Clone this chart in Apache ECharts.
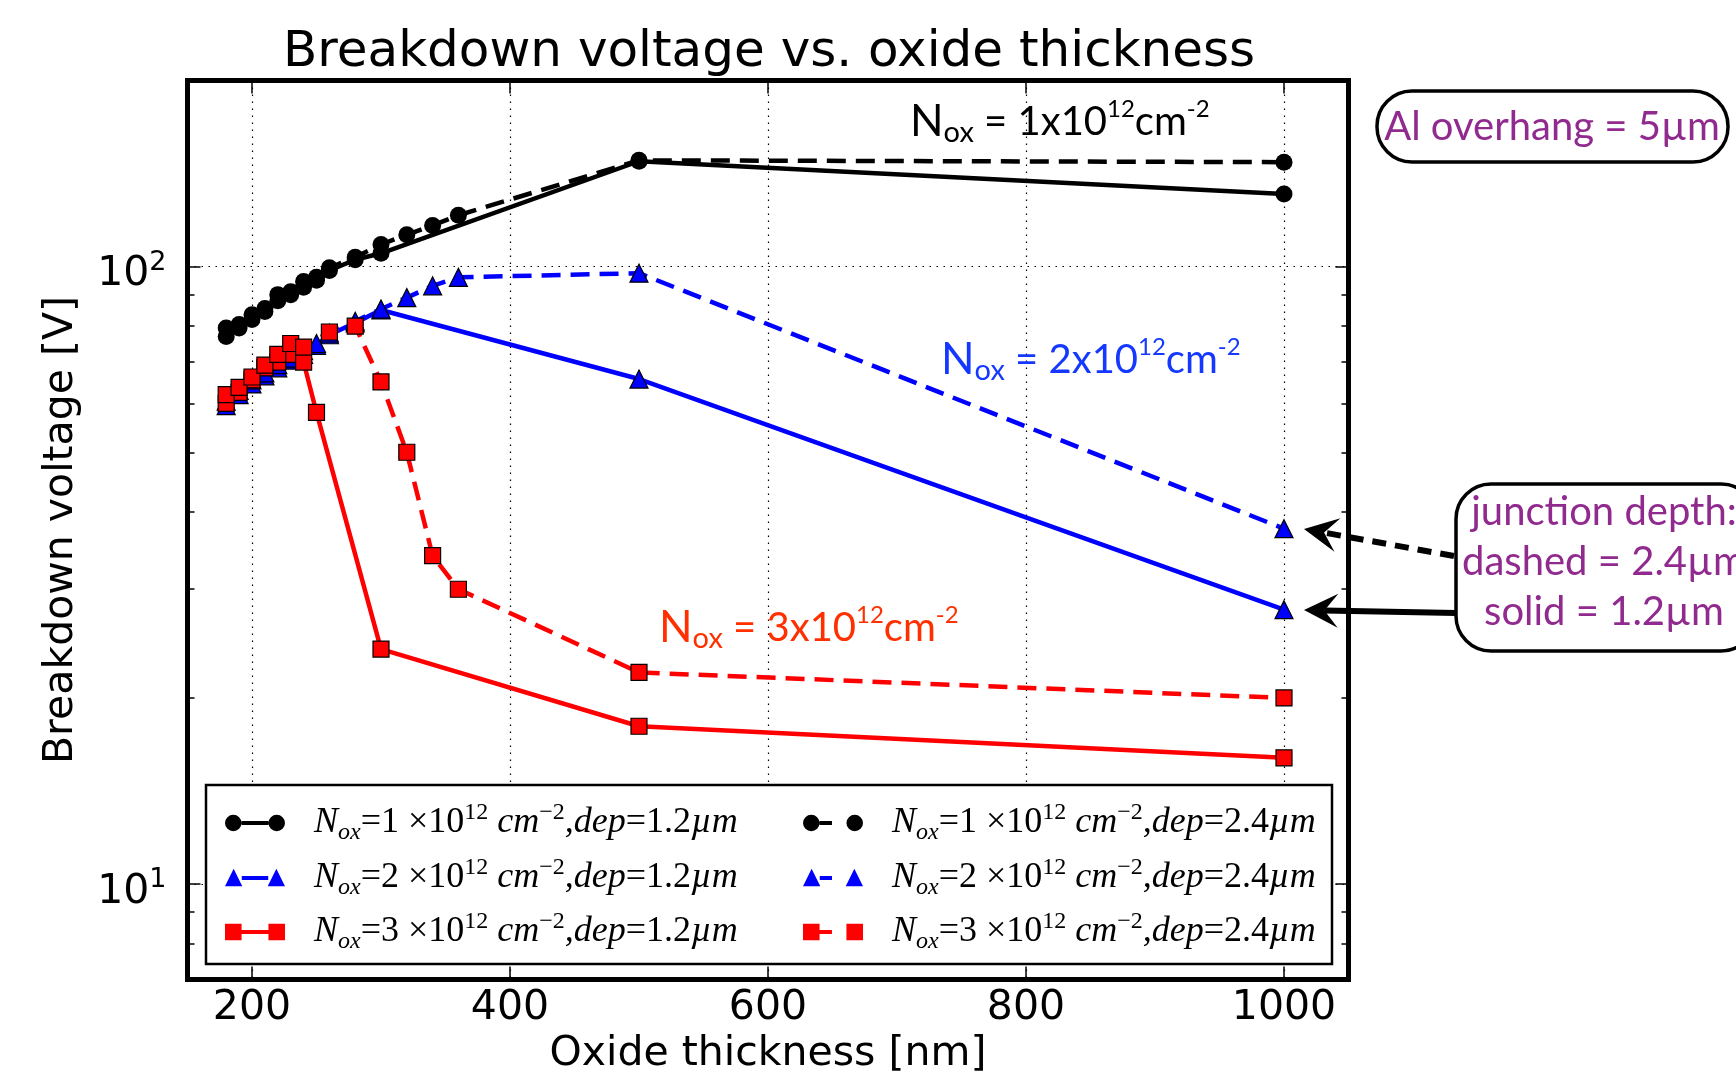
<!DOCTYPE html>
<html><head><meta charset="utf-8">
<script src="https://cdn.jsdelivr.net/npm/echarts@6/dist/echarts.min.js"></script>
<style>html,body{margin:0;padding:0;background:#fff}#c{width:1736px;height:1079px}</style>
</head><body><div id="c"></div>
<script>
// ---------------- data ----------------
const xTicks = [200, 400, 600, 800, 1000];
const yMajorTicks = [10, 100];
const yMinorTicks = [8, 9, 20, 30, 40, 50, 60, 70, 80, 90];

const thicknessBlackSolid = [180, 190, 200, 210, 220, 230, 240, 250, 260, 280, 300, 500, 1000];
const voltageBlackSolid   = [77, 79.5, 82, 84.5, 88, 90, 92.5, 95, 98.5, 102.5, 105, 148, 131];
const thicknessBlackDashed = [180, 190, 200, 210, 220, 230, 240, 250, 260, 280, 300, 320, 340, 360, 500, 1000];
const voltageBlackDashed   = [79.5, 80.5, 83.5, 85.5, 90, 91, 94.5, 96, 99.5, 103.5, 108.5, 112.5, 116.5, 121, 148.5, 147.5];

const thicknessBlueSolid = [180, 190, 200, 210, 220, 230, 240, 250, 260, 280, 300, 500, 1000];
const voltageBlueSolid   = [59.5, 62, 64.5, 66.5, 68.5, 70.5, 72, 74.5, 77.5, 81, 85, 65.7, 27.8];
const thicknessBlueDashed = [180, 190, 200, 210, 220, 230, 240, 250, 260, 280, 300, 320, 340, 360, 500, 1000];
const voltageBlueDashed   = [60.5, 63, 65.5, 67.2, 69.3, 71, 73, 75, 78, 81.5, 85.3, 89, 93, 96, 97.5, 37.6];

const thicknessRedSolid = [180, 190, 200, 210, 220, 230, 240, 250, 300, 500, 1000];
const voltageRedSolid   = [60, 62.5, 65.5, 68.5, 70, 72, 70, 58, 24, 18, 16];
const thicknessRedDashed = [180, 190, 200, 210, 220, 230, 240, 260, 280, 300, 320, 340, 360, 500, 1000];
const voltageRedDashed   = [62, 63.7, 66.2, 69.2, 72, 75, 74, 78.3, 80, 65, 50, 34, 30, 22, 20];

const noxValues = ['1', '2', '3'];
const depthValues = ['1.2', '2.4'];
// ---------------------------------------

function pairs(xs, ys) { return xs.map((x, i) => [x, ys[i]]); }
function seriesName(nox, dep) { return 'N_ox=' + nox + '×10^12 cm^-2, dep=' + dep + 'µm'; }
const richLegend = {};
noxValues.forEach(n => depthValues.forEach(d => {
  richLegend[seriesName(n, d)] = '{sp| }{it|N}{sub|ox}{rm|=' + n + ' ×10}{sup|12}{it| cm}{sup|−2}{it|,dep}{rm|=' + d + '}{it|µm}';
}));

const iconCircleSolid = 'path://M1,10a8,8 0 1,0 16,0a8,8 0 1,0 -16,0zM17,8h26v4h-26zM43,10a8,8 0 1,0 16,0a8,8 0 1,0 -16,0z';
const iconCircleDashed = 'path://M1,10a8,8 0 1,0 16,0a8,8 0 1,0 -16,0zM17,8h12v4h-12zM43,10a8,8 0 1,0 16,0a8,8 0 1,0 -16,0z';
const iconTriSolid = 'path://M9,1L17.5,18H0.5zM17,8h26v4h-26zM51,1L59.5,18H42.5z';
const iconTriDashed = 'path://M9,1L17.5,18H0.5zM17,8h12v4h-12zM51,1L59.5,18H42.5z';
const iconSqSolid = 'path://M1,2h16v16h-16zM17,8h26v4h-26zM43,2h16v16h-16z';
const iconSqDashed = 'path://M1,2h16v16h-16zM17,8h12v4h-12zM43,2h16v16h-16z';

const defs = [
  {n: '1', d: '1.2', xs: thicknessBlackSolid, ys: voltageBlackSolid, color: '#000000', symbol: 'circle', size: 17, dashed: false, icon: iconCircleSolid},
  {n: '1', d: '2.4', xs: thicknessBlackDashed, ys: voltageBlackDashed, color: '#000000', symbol: 'circle', size: 17, dashed: true, icon: iconCircleDashed},
  {n: '2', d: '1.2', xs: thicknessBlueSolid, ys: voltageBlueSolid, color: '#0000ff', symbol: 'triangle', size: 18, dashed: false, icon: iconTriSolid},
  {n: '2', d: '2.4', xs: thicknessBlueDashed, ys: voltageBlueDashed, color: '#0000ff', symbol: 'triangle', size: 18, dashed: true, icon: iconTriDashed},
  {n: '3', d: '1.2', xs: thicknessRedSolid, ys: voltageRedSolid, color: '#ff0000', symbol: 'rect', size: 16, dashed: false, icon: iconSqSolid},
  {n: '3', d: '2.4', xs: thicknessRedDashed, ys: voltageRedDashed, color: '#ff0000', symbol: 'rect', size: 16, dashed: true, icon: iconSqDashed}
];

const series = defs.map(s => ({
  type: 'line',
  name: seriesName(s.n, s.d),
  data: pairs(s.xs, s.ys),
  xAxisIndex: 0, yAxisIndex: 0,
  symbol: s.symbol, symbolSize: s.size, showAllSymbol: true,
  lineStyle: {color: s.color, width: 4.5, type: s.dashed ? [19, 10] : 'solid'},
  itemStyle: {color: s.color, borderColor: '#000', borderWidth: s.color === '#000000' ? 0 : 1.2},
  emphasis: {disabled: true},
  animation: false
}));

const legendRich = {
  sp: {width: 24, fontSize: 10},
  it: {fontFamily: 'Liberation Serif', fontStyle: 'italic', fontSize: 36, lineHeight: 44, color: '#000'},
  rm: {fontFamily: 'Liberation Serif', fontSize: 36, lineHeight: 44, color: '#000'},
  sub: {fontFamily: 'Liberation Serif', fontStyle: 'italic', fontSize: 24, lineHeight: 22, verticalAlign: 'bottom', color: '#000'},
  sup: {fontFamily: 'Liberation Serif', fontSize: 24, lineHeight: 22, verticalAlign: 'top', color: '#000'}
};
function legendFor(dep, left) {
  return {
    orient: 'vertical', left: left, top: 796, itemGap: 10.5,
    itemWidth: 60, itemHeight: 20,
    selectedMode: false,
    itemStyle: {borderWidth: 0},
    data: defs.filter(s => s.d === dep).map(s => ({name: seriesName(s.n, s.d), icon: s.icon})),
    formatter: name => richLegend[name],
    textStyle: {rich: legendRich}
  };
}

const axisFont = 'DejaVu Sans';
const tickLine = {color: '#000', width: 1.5};

function arrow(x1, y1, x2, y2, dashed) {
  const dx = x2 - x1, dy = y2 - y1, L = Math.hypot(dx, dy);
  const ux = dx / L, uy = dy / L, nx = -uy, ny = ux;
  const hl = 34, hw = 17;
  const notch = [x2 - 0.6 * hl * ux, y2 - 0.6 * hl * uy];
  return [
    {type: 'line', z: 10, shape: {x1: x1, y1: y1, x2: notch[0], y2: notch[1]},
     style: {stroke: '#000', lineWidth: 6, lineDash: dashed ? [14, 9] : null}},
    {type: 'polygon', z: 10, shape: {points: [[x2, y2],
        [x2 - hl * ux + hw * nx, y2 - hl * uy + hw * ny], notch,
        [x2 - hl * ux - hw * nx, y2 - hl * uy - hw * ny]]},
     style: {fill: '#000'}}
  ];
}

function noxText(x, y, n, color) {
  return {
    type: 'text', x: x, y: y, z: 10,
    style: {
      text: '{N|N}{o|ox}{t| = ' + n + 'x10}{s|12}{t|cm}{s|-2}',
      align: 'left', verticalAlign: 'middle',
      rich: {
        N: {fontFamily: 'Lato', fontSize: 44, lineHeight: 50, fill: color, color: color},
        o: {fontFamily: 'Lato', fontSize: 29, lineHeight: 28, verticalAlign: 'bottom', fill: color, color: color},
        t: {fontFamily: 'Lato', fontSize: 40, lineHeight: 50, fill: color, color: color},
        s: {fontFamily: 'Lato', fontSize: 24, lineHeight: 28, verticalAlign: 'top', fill: color, color: color}
      }
    }
  };
}

const purple = '#912a8e';
const graphics = [
  {type: 'rect', z: 3, shape: {x: 206, y: 785, width: 1126, height: 179},
   style: {fill: '#fff', stroke: '#000', lineWidth: 2.5}},
  noxText(910, 122, '1', '#000000'),
  noxText(941, 360, '2', '#1438ff'),
  noxText(659, 628, '3', '#ff3000'),
  {type: 'rect', z: 10, shape: {x: 1377, y: 91, width: 351, height: 71, r: 35},
   style: {fill: '#fff', stroke: '#000', lineWidth: 3.5}},
  {type: 'text', z: 11, x: 1552, y: 127,
   style: {text: 'Al overhang = 5µm', font: '40px Lato', fill: purple, align: 'center', verticalAlign: 'middle'}},
  {type: 'rect', z: 10, shape: {x: 1456, y: 484, width: 300, height: 167, r: 35},
   style: {fill: '#fff', stroke: '#000', lineWidth: 3.5}},
  {type: 'text', z: 11, x: 1604, y: 562,
   style: {text: 'junction depth:\ndashed = 2.4µm\nsolid = 1.2µm', font: '40px Lato', lineHeight: 50,
     fill: purple, align: 'center', verticalAlign: 'middle'}}
].concat(arrow(1454, 556, 1304, 529, true)).concat(arrow(1456, 613, 1304, 610, false));

const grid = {left: 187.5, top: 80.5, width: 1161, height: 899, show: true, borderColor: '#000', borderWidth: 5,
  backgroundColor: 'transparent', containLabel: false, outerBoundsMode: 'none'};

const option = {
  backgroundColor: '#fff',
  animation: false,
  title: {text: 'Breakdown voltage vs. oxide thickness', left: 278, top: 23,
    textStyle: {fontFamily: axisFont, fontSize: 50, fontWeight: 'normal', color: '#000'}},
  grid: grid,
  legend: [legendFor('1.2', 220), legendFor('2.4', 798)],
  xAxis: [
    {type: 'value', position: 'bottom', min: 150, max: 1050,
     name: 'Oxide thickness [nm]', nameLocation: 'middle', nameGap: 42,
     nameTextStyle: {fontFamily: axisFont, fontSize: 41, color: '#000'},
     axisLine: {show: false},
     axisTick: {show: true, inside: true, length: 13, lineStyle: tickLine, customValues: xTicks},
     axisLabel: {show: true, margin: 8, fontFamily: axisFont, fontSize: 41, color: '#000', customValues: xTicks,
       formatter: v => String(v)},
     splitLine: {show: true, lineStyle: {color: '#000', width: 1.2, type: [1.5, 5.5]}}},
    {type: 'value', position: 'top', min: 150, max: 1050,
     axisLine: {show: false},
     axisTick: {show: true, inside: true, length: 13, lineStyle: tickLine, customValues: xTicks},
     axisLabel: {show: false}, splitLine: {show: false}}
  ],
  yAxis: [
    {type: 'log', logBase: 10, position: 'left', min: 7, max: 200,
     name: 'Breakdown voltage [V]', nameLocation: 'middle', nameGap: 106,
     nameTextStyle: {fontFamily: axisFont, fontSize: 41, color: '#000'},
     axisLine: {show: false},
     axisTick: {show: true, inside: true, length: 13, lineStyle: tickLine, customValues: yMajorTicks},
     axisLabel: {show: true, margin: 21, customValues: yMajorTicks, padding: [16, 0, 0, 0],
       formatter: v => '{b|10}{s|' + Math.round(Math.log10(v)) + '}',
       rich: {b: {fontFamily: axisFont, fontSize: 41, lineHeight: 50, color: '#000'},
              s: {fontFamily: axisFont, fontSize: 27, lineHeight: 30, verticalAlign: 'top', color: '#000'}}},
     splitLine: {show: true, lineStyle: {color: '#000', width: 1.2, type: [1.5, 5.5]}}},
    {type: 'log', logBase: 10, position: 'right', min: 7, max: 200,
     axisLine: {show: false},
     axisTick: {show: true, inside: true, length: 13, lineStyle: tickLine, customValues: yMajorTicks},
     axisLabel: {show: false}, splitLine: {show: false}},
    {type: 'log', logBase: 10, position: 'left', min: 7, max: 200,
     axisLine: {show: false},
     axisTick: {show: true, inside: true, length: 7, lineStyle: tickLine, customValues: yMinorTicks},
     axisLabel: {show: false}, splitLine: {show: false}},
    {type: 'log', logBase: 10, position: 'right', min: 7, max: 200,
     axisLine: {show: false},
     axisTick: {show: true, inside: true, length: 7, lineStyle: tickLine, customValues: yMinorTicks},
     axisLabel: {show: false}, splitLine: {show: false}}
  ],
  series: series,
  graphic: graphics
};

const chart = echarts.init(document.getElementById('c'), null, {renderer: 'canvas'});
chart.setOption(option);
</script></body></html>
